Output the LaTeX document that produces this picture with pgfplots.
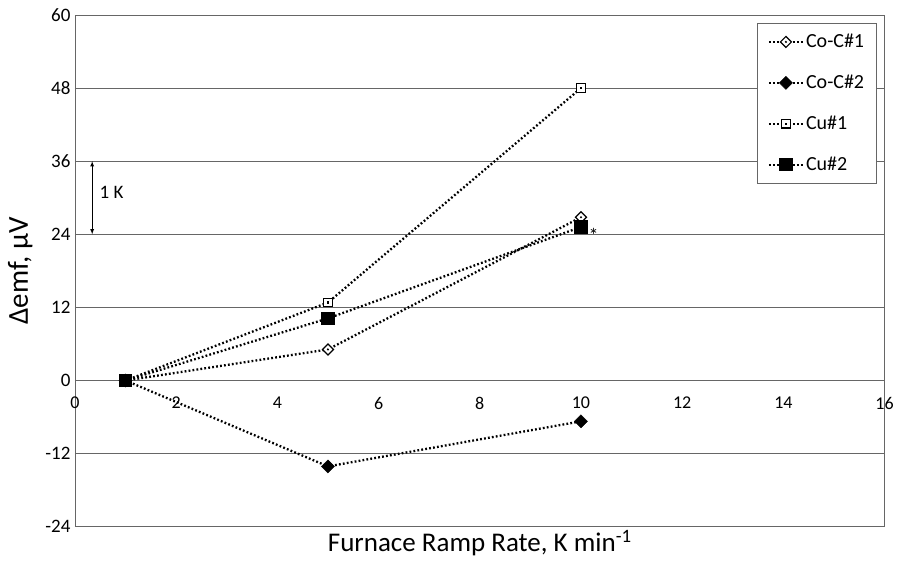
\documentclass[border=0pt]{standalone}
\usepackage{pgfplots}
\pgfplotsset{compat=1.18}
\usepackage{fontspec}
\setmainfont{Carlito}
% open markers with a small dot in the middle, as in the original
\pgfdeclareplotmark{dotdiamond}{%
  \pgfpathmoveto{\pgfqpoint{0pt}{\pgfplotmarksize}}%
  \pgfpathlineto{\pgfqpoint{\pgfplotmarksize}{0pt}}%
  \pgfpathlineto{\pgfqpoint{0pt}{-\pgfplotmarksize}}%
  \pgfpathlineto{\pgfqpoint{-\pgfplotmarksize}{0pt}}%
  \pgfpathclose
  \pgfusepathqfillstroke
  \begin{pgfscope}
  \pgfpathcircle{\pgfpointorigin}{0.22\pgfplotmarksize}%
  \pgfsetfillcolor{black}\pgfusepathqfill
  \end{pgfscope}}
\pgfdeclareplotmark{dotsquare}{%
  \pgfpathrectangle{\pgfqpoint{-\pgfplotmarksize}{-\pgfplotmarksize}}{\pgfqpoint{2\pgfplotmarksize}{2\pgfplotmarksize}}%
  \pgfusepathqfillstroke
  \begin{pgfscope}
  \pgfpathrectangle{\pgfqpoint{-0.3\pgfplotmarksize}{-0.3\pgfplotmarksize}}{\pgfqpoint{0.6\pgfplotmarksize}{0.6\pgfplotmarksize}}%
  \pgfsetfillcolor{black}\pgfusepathqfill
  \end{pgfscope}}
\pgfdeclareplotmark{fdiamond}{%
  \pgfpathmoveto{\pgfqpoint{0pt}{\pgfplotmarksize}}%
  \pgfpathlineto{\pgfqpoint{\pgfplotmarksize}{0pt}}%
  \pgfpathlineto{\pgfqpoint{0pt}{-\pgfplotmarksize}}%
  \pgfpathlineto{\pgfqpoint{-\pgfplotmarksize}{0pt}}%
  \pgfpathclose
  \pgfusepathqfillstroke}
\pgfplotsset{
  dline/.style={black, line width=2.3pt, dash pattern=on 1.8pt off 2.2pt},
}
\begin{document}
\begin{tikzpicture}
\begin{axis}[
  scale only axis,
  width=810bp, height=512bp,
  xmin=0, xmax=16, ymin=-24, ymax=60,
  xtick={0,2,...,16}, ytick={-24,-12,...,60},
  major tick length=0pt,
  axis line style={gray!80!black, line width=0.9pt},
  ymajorgrids, grid style={gray!80!black, line width=0.9pt},
  /pgf/number format/assume math mode=true,
  tick label style={font=\fontsize{19bp}{21bp}\selectfont, black},
  xticklabel style={font=\fontsize{18bp}{20bp}\selectfont, yshift=146.3bp-13bp},
  yticklabel style={xshift=-1bp},
  xlabel={Furnace Ramp Rate, K min\textsuperscript{-1}},
  ylabel={Δemf, μV},
  xlabel style={font=\fontsize{27bp}{29bp}\selectfont, yshift=0bp},
  ylabel style={font=\fontsize{29bp}{31bp}\selectfont, yshift=6bp},
  legend style={at={(1,1)}, anchor=north east, xshift=-8bp, yshift=-8bp,
    draw=gray!80!black, line width=0.9pt, font=\fontsize{20bp}{22bp}\selectfont,
    row sep=22bp, inner ysep=9bp, inner xsep=10bp},
  legend cell align=left,
  legend image code/.code={\draw[mark repeat=2,mark phase=2,#1] plot coordinates {(0bp,0bp) (17bp,0bp) (34bp,0bp)};},
]
\addplot[dline, mark=dotdiamond, mark size=5.5bp, mark options={solid, fill=white, line width=1.2pt}]
  coordinates {(1,0) (5,5.1) (10,26.8)};
\addlegendentry{Co-C\#1}
\addplot[dline, mark=fdiamond, mark size=6.5bp, mark options={solid, fill=black, line width=0.5pt}]
  coordinates {(1,0) (5,-14.1) (10,-6.7)};
\addlegendentry{Co-C\#2}
\addplot[dline, mark=dotsquare, mark size=4.3bp, mark options={solid, fill=white, line width=1.3pt}]
  coordinates {(1,0) (5,12.8) (10,48)};
\addlegendentry{Cu\#1}
\addplot[dline, mark=square*, mark size=5.5bp, mark options={solid, fill=black}]
  coordinates {(1,0) (5,10.2) (10,25.2)};
\addlegendentry{Cu\#2}
\node[font=\fontsize{20bp}{22bp}\selectfont] at (axis cs:10.25,23.9) {*};
\draw[-latex, black, line width=0.8pt] (axis cs:0.34,30) -- (axis cs:0.34,36);
\draw[-latex, black, line width=0.8pt] (axis cs:0.34,30) -- (axis cs:0.34,24);
\node[anchor=west, font=\fontsize{19bp}{21bp}\selectfont] at (axis cs:0.42,30.8) {1 K};
\end{axis}
\path (current axis.south west) ++(-75bp,-41bp);
\path (current axis.north east) ++(12bp,15bp);
\end{tikzpicture}
\end{document}
